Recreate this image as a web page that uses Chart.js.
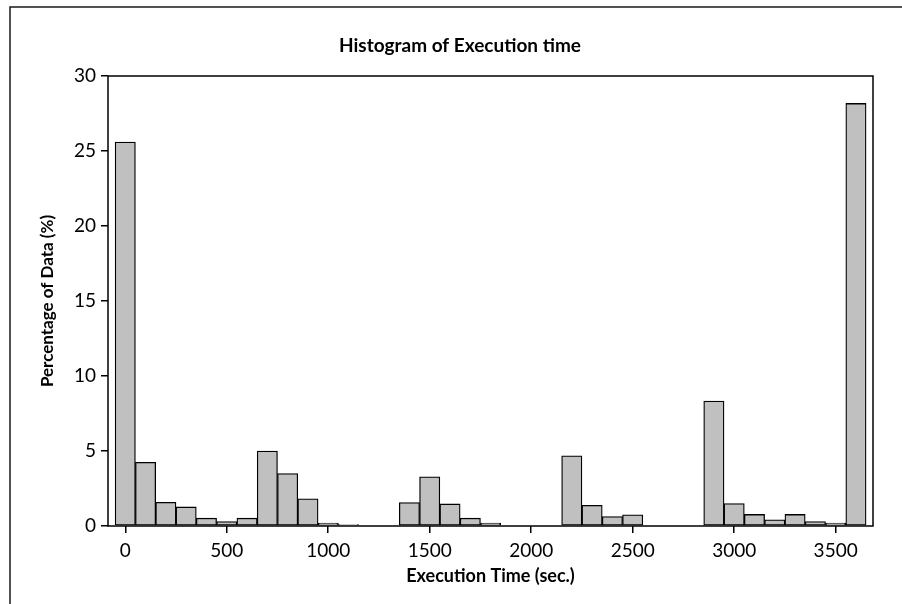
<!DOCTYPE html>
<html>
<head>
<meta charset="utf-8">
<title>Histogram of Execution time</title>
<script src="https://cdn.jsdelivr.net/npm/chart.js"></script>
<style>
  body { margin: 0; background: #fff; }
  canvas { display: block; }
</style>
</head>
<body>
<canvas id="histChart" width="902" height="604"></canvas>
<script>
// bin centres in seconds (bins are 100 s wide)
var binCenters = [0, 100, 200, 300, 400, 500, 600, 700, 800, 900,
  1000, 1100, 1200, 1300, 1400, 1500, 1600, 1700, 1800, 1900,
  2000, 2100, 2200, 2300, 2400, 2500, 2600, 2700, 2800, 2900,
  3000, 3100, 3200, 3300, 3400, 3500, 3600];

// share of runs falling in each bin (%)
var percentages = [25.6, 4.25, 1.58, 1.27, 0.52, 0.29, 0.52, 5.0, 3.5, 1.81,
  0.2, 0.1, 0, 0, 1.56, 3.28, 1.47, 0.52, 0.2, 0,
  0, 0, 4.68, 1.38, 0.63, 0.75, 0, 0, 0, 8.33,
  1.49, 0.77, 0.41, 0.77, 0.29, 0.2, 28.17];

var xTicks = [0, 500, 1000, 1500, 2000, 2500, 3000, 3500];
var yTicks = [0, 5, 10, 15, 20, 25, 30];

var tickFont = { family: "Lato", size: 19 };

// plain numbers, no thousands separator
function plainLabel(value) {
  return String(value);
}

// outer frame + box around the plot area
var frameLines = {
  id: "frameLines",
  beforeDraw: function (chart) {
    var ctx = chart.ctx;
    ctx.save();
    ctx.fillStyle = "#fff";
    ctx.fillRect(0, 0, chart.width, chart.height);
    ctx.strokeStyle = "#1a1a1a";
    ctx.lineWidth = 1.5;
    ctx.beginPath();
    ctx.moveTo(10, chart.height);
    ctx.lineTo(10, 7);
    ctx.lineTo(chart.width, 7);
    ctx.stroke();
    ctx.restore();
  },
  afterDatasetsDraw: function (chart) {
    var ctx = chart.ctx;
    var a = chart.chartArea;
    ctx.save();
    ctx.strokeStyle = "#000";
    ctx.lineWidth = 1.5;
    ctx.strokeRect(a.left, a.top, a.right - a.left, a.bottom - a.top);
    ctx.restore();
  }
};

var ctx = document.getElementById("histChart").getContext("2d");
var chart = new Chart(ctx, {
  type: "bar",
  data: {
    datasets: [
      {
        label: "Execution time",
        data: binCenters.map(function (c, i) { return { x: c, y: percentages[i] }; }),
        backgroundColor: "#c0c0c0",
        borderColor: "#000",
        borderWidth: 1.3,
        borderSkipped: false,
        barPercentage: 1,
        categoryPercentage: 1,
        grouped: false
      }
    ]
  },
  options: {
    responsive: false,
    animation: false,
    devicePixelRatio: 1,
    layout: { padding: { left: 18, right: 0, top: 0, bottom: 0 } },
    plugins: {
      legend: { display: false },
      tooltip: { enabled: false },
      title: {
        display: true,
        text: "Histogram of Execution time",
        color: "#000",
        font: { family: "Lato", size: 19, weight: "bold" },
        padding: { top: 34.1, bottom: 19.1 }
      }
    },
    scales: {
      x: {
        type: "linear",
        min: -85,
        max: 3684,
        offset: false,
        afterBuildTicks: function (axis) {
          axis.ticks = xTicks.map(function (v) { return { value: v }; });
        },
        afterFit: function (axis) {
          axis.height = 78;
          axis.paddingRight = 29;
        },
        grid: { drawOnChartArea: false, drawTicks: true, tickLength: 7, color: "#000", lineWidth: 1.5, offset: false },
        border: { display: false },
        ticks: { color: "#000", font: tickFont, padding: 6, maxRotation: 0, autoSkip: false, callback: plainLabel },
        title: {
          display: true,
          text: "Execution Time (sec.)",
          color: "#000",
          font: { family: "Lato", size: 18, weight: "bold" },
          padding: { top: 0, bottom: 17.2 }
        }
      },
      y: {
        min: 0,
        max: 30,
        afterBuildTicks: function (axis) {
          axis.ticks = yTicks.map(function (v) { return { value: v }; });
        },
        afterFit: function (axis) {
          axis.width = 90;
        },
        grid: { drawOnChartArea: false, drawTicks: true, tickLength: 7, color: "#000", lineWidth: 1.5 },
        border: { display: false },
        ticks: { color: "#000", font: tickFont, padding: 5, callback: plainLabel },
        title: {
          display: true,
          text: "Percentage of Data (%)",
          color: "#000",
          font: { family: "Lato", size: 17, weight: "bold" },
          padding: { top: 19.8, bottom: 0 }
        }
      }
    }
  },
  plugins: [frameLines]
});
</script>
</body>
</html>
